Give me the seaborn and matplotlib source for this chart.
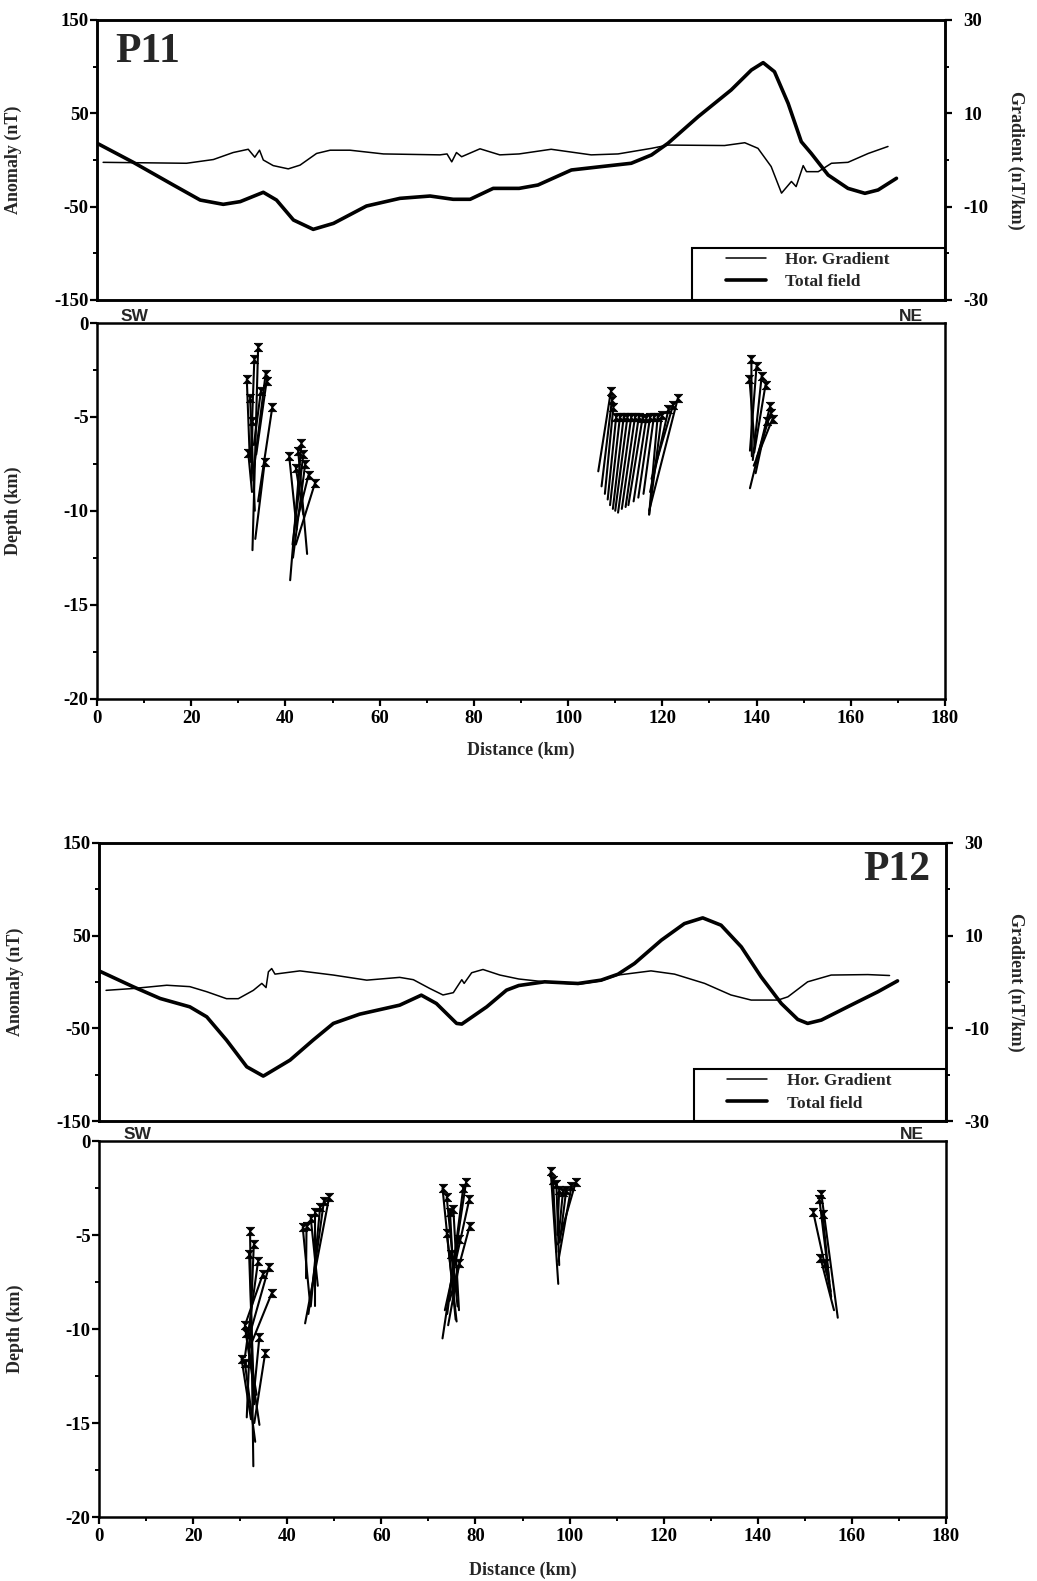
import matplotlib
matplotlib.use("Agg")
import numpy as np
import pandas as pd
import matplotlib.pyplot as plt
from matplotlib.patches import Rectangle
from matplotlib.ticker import MultipleLocator, FixedLocator
import seaborn as sns

# ---------------- Profile P11 ----------------
tf11_km = [0, 7.7, 16.2, 21.9, 26.8, 30.4, 35.3, 38.1, 41.7, 45.9, 50.2, 57.2, 64.3,
           70.7, 75.6, 79.2, 84.1, 89.6, 93.6, 100.7, 107.0, 113.4, 117.7, 121.2,
           127.6, 134.6, 138.9, 141.4, 143.8, 146.7, 149.5, 151.6, 155.2, 159.4,
           163.0, 165.8, 169.7]
tf11_nt = [18, -2.5, -26.8, -42.9, -47.5, -44.6, -34.6, -42.9, -64.3, -74.3, -67.9,
           -49.3, -41.1, -38.6, -42.1, -42.1, -30.4, -30.4, -26.8, -10.7, -7.1, -3.5,
           5.4, 17.9, 46.4, 75.0, 96.4, 104.3, 94.6, 60.7, 19.6, 7.1, -16.1, -30.4,
           -35.7, -32.1, -19.6]

hg11_km = [1.3, 19.0, 24.7, 28.9, 32.1, 33.5, 34.5, 35.3, 37.4, 40.6, 43.1, 46.6, 49.5,
           53.7, 60.8, 72.8, 74.3, 75.3, 76.3, 77.4, 81.3, 85.5, 89.6, 96.4, 104.9,
           110.6, 117.7, 121.2, 133.2, 137.5, 140.3, 143.1, 145.3, 147.4, 148.4, 149.9,
           150.6, 153.1, 155.9, 159.4, 163.7, 167.9]
hg11_g = [-0.5, -0.7, 0.1, 1.6, 2.3, 0.6, 2.1, 0.0, -1.2, -1.9, -1.1, 1.4, 2.1, 2.1,
          1.3, 1.1, 1.3, -0.4, 1.6, 0.7, 2.4, 1.1, 1.3, 2.3, 1.1, 1.3, 2.5, 3.2, 3.1,
          3.7, 2.5, -1.4, -7.1, -4.6, -5.7, -1.2, -2.5, -2.5, -0.7, -0.5, 1.4, 2.9]

# Euler solutions (top and bottom of each solution line), P11
sol11_x_top = [34.2, 33.4, 31.8, 35.8, 36.0, 37.2, 32.5, 35.6, 33.0, 34.8, 32.1,
               43.4, 42.7, 40.8, 44.2, 44.9, 46.3, 42.2, 43.8,
               109.1, 109.3, 109.6, 110.2, 111.0, 111.8, 112.6, 113.4, 114.2, 115.0,
               115.8, 116.6, 117.4, 118.2, 119.0, 119.9, 121.3, 122.3, 123.3,
               138.9, 140.0, 138.5, 141.1, 141.9, 142.9, 143.4, 142.2, 143.0]
sol11_z_top = [-1.3, -1.9, -3.0, -2.7, -3.1, -4.5, -4.0, -7.4, -5.2, -3.6, -6.9,
               -6.4, -6.8, -7.1, -7.5, -8.1, -8.5, -7.7, -7.0,
               -3.6, -4.1, -4.5, -5.0, -5.0, -5.0, -5.0, -5.0, -5.0, -5.0,
               -5.05, -5.05, -5.0, -5.0, -5.0, -4.9, -4.6, -4.35, -4.0,
               -1.9, -2.3, -3.0, -2.8, -3.3, -4.4, -5.1, -5.2, -4.8]
sol11_x_bot = [33.0, 32.6, 32.4, 33.2, 33.8, 34.2, 33.5, 33.6, 32.8, 33.3, 32.9,
               41.0, 44.6, 42.4, 41.6, 42.5, 42.2, 43.8, 41.5,
               106.4, 107.1, 107.8, 108.4, 108.9, 109.5, 110.0, 110.6, 111.4, 112.2,
               112.8, 113.9, 114.9, 116.0, 117.2, 117.2, 117.4, 117.7, 117.2,
               139.0, 138.6, 139.6, 139.2, 139.5, 138.6, 139.4, 139.8, 140.0]
sol11_z_bot = [-12.1, -7.4, -7.0, -8.0, -7.0, -9.5, -10.0, -11.5, -8.4, -6.5, -9.0,
               -13.7, -12.3, -11.0, -12.5, -10.5, -11.8, -10.2, -11.8,
               -7.9, -8.7, -9.1, -9.4, -9.7, -9.9, -10.0, -10.1, -9.9, -9.8,
               -9.7, -9.5, -9.3, -9.1, -10.2, -10.2, -9.0, -8.3, -10.0,
               -7.1, -6.8, -6.5, -7.3, -6.9, -8.8, -7.6, -8.0, -7.2]

# ---------------- Profile P12 ----------------
tf12_km = [0, 7.3, 13.0, 19.3, 22.9, 27.1, 31.4, 34.9, 35.3, 40.6, 45.5, 49.8, 55.4,
           63.9, 68.5, 71.7, 76.0, 77.1, 82.4, 86.6, 89.2, 94.7, 101.8, 106.7, 110.3,
           113.8, 119.5, 124.4, 128.3, 132.2, 136.5, 140.7, 145.0, 148.5, 150.6,
           153.5, 159.8, 165.5, 169.7]
tf12_nt = [12, -5.2, -17.8, -26.8, -37.6, -62.7, -91.5, -101.5, -100.4, -84.3, -62.7,
           -44.7, -34.7, -25.0, -14.2, -23.2, -44.7, -45.4, -26.8, -8.8, -3.8, 0.2,
           -1.6, 2.0, 8.4, 20.0, 45.1, 63.0, 69.2, 61.3, 37.9, 5.6, -23.2, -40.4,
           -44.7, -41.1, -25.0, -10.6, 1.2]

hg12_km = [1.5, 7.3, 14.4, 19.3, 22.9, 27.1, 29.6, 32.8, 34.6, 35.5, 36.0, 36.7, 37.4,
           42.7, 49.8, 56.9, 63.9, 66.8, 70.3, 73.1, 75.3, 77.1, 77.6, 79.2, 81.6,
           85.2, 89.2, 94.7, 101.8, 106.7, 110.3, 117.3, 122.3, 128.7, 134.3, 138.6,
           144.3, 146.4, 150.6, 155.6, 163.4, 168.0]
hg12_g = [-1.8, -1.4, -0.7, -1.0, -2.1, -3.6, -3.6, -1.8, -0.3, -1.2, 2.2, 2.9, 1.7,
          2.4, 1.5, 0.4, 1.0, 0.5, -1.4, -2.8, -2.3, 0.5, -0.3, 2.0, 2.7, 1.5, 0.65,
          0.04, -0.5, 0.25, 1.5, 2.4, 1.7, -0.3, -2.8, -3.9, -3.9, -3.2, 0.04, 1.5,
          1.6, 1.4]

sol12_x_top = [32.1, 32.9, 31.9, 33.8, 36.1, 34.8, 36.7, 31.0, 31.2, 34.1, 35.3, 30.3, 31.0,
               48.9, 47.8, 47.0, 45.9, 45.0, 44.1, 43.3,
               73.0, 73.9, 78.0, 77.4, 78.7, 75.3, 74.6, 78.8, 73.9, 76.4, 74.8, 76.6,
               96.0, 96.5, 97.2, 101.3, 100.4, 97.8, 99.3, 98.6,
               153.5, 153.1, 151.8, 153.8, 153.3, 154.2]
sol12_z_top = [-4.8, -5.5, -6.0, -6.4, -6.7, -7.1, -8.1, -9.8, -10.2, -10.4, -11.3, -11.6, -11.8,
               -3.0, -3.2, -3.5, -3.8, -4.1, -4.5, -4.6,
               -2.5, -3.0, -2.2, -2.5, -3.1, -3.6, -3.8, -4.5, -4.9, -5.2, -6.0, -6.5,
               -1.6, -2.1, -2.3, -2.2, -2.4, -2.6, -2.6, -2.7,
               -2.8, -3.1, -3.8, -3.9, -6.2, -6.5]
sol12_x_bot = [32.8, 31.4, 33.0, 31.0, 31.8, 31.3, 32.0, 33.5, 34.1, 32.5, 33.0, 32.3, 33.2,
               43.8, 44.5, 45.0, 45.9, 46.5, 44.0, 44.8,
               75.8, 76.2, 73.0, 74.0, 73.5, 76.5, 75.5, 74.5, 76.0, 75.0, 76.2, 74.2,
               97.6, 97.2, 97.8, 97.5, 97.6, 97.4, 97.9, 97.7,
               157.0, 155.6, 154.6, 155.2, 156.2, 155.5]
sol12_z_bot = [-17.3, -14.7, -14.0, -11.5, -10.5, -9.6, -11.0, -13.5, -15.1, -14.5, -15.0, -14.8, -16.0,
               -9.7, -9.2, -8.8, -8.8, -7.7, -7.3, -8.5,
               -9.5, -8.8, -10.5, -9.2, -9.0, -9.0, -8.0, -8.5, -9.6, -7.5, -8.2, -9.8,
               -7.6, -5.9, -6.6, -5.5, -6.4, -5.0, -5.4, -5.0,
               -9.4, -8.3, -7.0, -7.5, -9.0, -8.0]

anomaly_ticks = [150, 50, -50, -150]
gradient_ticks = [30, 10, -10, -30]
depth_ticks = [0, -5, -10, -15, -20]
distance_ticks = list(range(0, 181, 20))

# ---------------- style ----------------
sns.set_theme(style="ticks")
plt.rcParams["font.family"] = ["Liberation Serif", "DejaVu Serif"]
plt.rcParams.update({
    "font.weight": "bold",
    "axes.labelweight": "bold",
    "axes.unicode_minus": False,
    "axes.linewidth": 1.8,
    "axes.edgecolor": "black",
    "xtick.color": "black",
    "ytick.color": "black",
    "xtick.direction": "out",
    "ytick.direction": "out",
    "xtick.major.size": 5,
    "ytick.major.size": 5,
    "xtick.minor.size": 3,
    "ytick.minor.size": 3,
    "xtick.major.width": 1.6,
    "ytick.major.width": 1.6,
    "xtick.minor.width": 1.4,
    "ytick.minor.width": 1.4,
    "xtick.labelsize": 13.5,
    "ytick.labelsize": 13.5,
    "axes.labelsize": 13,
})

W, H = 1037, 1581
fig = plt.figure(figsize=(W / 100, H / 100), dpi=100)


def box(left, right, top, bottom):
    return [left / W, 1 - bottom / H, (right - left) / W, (bottom - top) / H]


HOURGLASS = [(-1, 1), (1, 1), (-1, -1), (1, -1), (-1, 1)]


def field_panel(rect, tf_km, tf_nt, hg_km, hg_g, name, name_xy, name_ha):
    ax = fig.add_axes(rect)
    axr = ax.twinx()
    sns.lineplot(x=tf_km, y=tf_nt, ax=ax, color="black", linewidth=2.6,
                 estimator=None, sort=False, solid_joinstyle="round",
                 solid_capstyle="round")
    sns.lineplot(x=hg_km, y=hg_g, ax=axr, color="black", linewidth=1.1,
                 estimator=None, sort=False, solid_joinstyle="round")
    ax.set_xlim(0, 180)
    ax.set_ylim(-150, 150)
    axr.set_ylim(-30, 30)
    ax.set_xticks([])
    ax.yaxis.set_major_locator(FixedLocator(anomaly_ticks))
    ax.yaxis.set_minor_locator(FixedLocator([100, 0, -100]))
    axr.yaxis.set_major_locator(FixedLocator(gradient_ticks))
    axr.yaxis.set_minor_locator(FixedLocator([20, 0, -20]))
    ax.set_ylabel("Anomaly (nT)")
    axr.set_ylabel("Gradient (nT/km)", rotation=270)
    ax.yaxis.set_label_coords(-0.088, 0.5)
    axr.yaxis.set_label_coords(1.093, 0.5)
    ax.tick_params(axis="y", pad=1)
    axr.tick_params(axis="y", pad=8)
    for s in ax.spines.values():
        s.set_linewidth(1.8)
    ax.text(name_xy[0], name_xy[1], name, transform=ax.transAxes, ha=name_ha,
            va="baseline", fontsize=30, fontweight="bold")
    # legend box in the lower right corner
    axr.add_patch(Rectangle((0.702, 0.0), 0.298, 0.186, transform=axr.transAxes,
                            facecolor="white", edgecolor="black", linewidth=1.5,
                            zorder=5))
    leg = axr.legend(handles=[axr.lines[0], ax.lines[0]],
                     labels=["Hor. Gradient", "Total field"],
                     loc="upper left", bbox_to_anchor=(0.742, 0.172),
                     frameon=False, borderpad=0, borderaxespad=0,
                     handlelength=2.3, handletextpad=1.1, labelspacing=0.35,
                     prop={"family": "Liberation Serif", "weight": "bold",
                           "size": 12.5})
    leg.set_zorder(6)
    return ax


def depth_panel(rect, xt, zt, xb, zb, sw_x, ne_x, xlabel_y):
    ax = fig.add_axes(rect)
    seg = np.arange(len(xt))
    df = pd.DataFrame({
        "km": np.concatenate([xt, xb]),
        "depth": np.concatenate([zt, zb]),
        "seg": np.concatenate([seg, seg]),
    })
    sns.lineplot(data=df, x="km", y="depth", units="seg", estimator=None,
                 sort=False, color="black", linewidth=1.5, ax=ax, legend=False)
    sns.scatterplot(x=xt, y=zt, ax=ax, marker=HOURGLASS, s=36, color="black",
                    edgecolor="black", linewidth=0.6, zorder=3)
    ax.set_xlim(0, 180)
    ax.set_ylim(-20, 0)
    ax.xaxis.set_major_locator(FixedLocator(distance_ticks))
    ax.xaxis.set_minor_locator(MultipleLocator(10))
    ax.yaxis.set_major_locator(FixedLocator(depth_ticks))
    ax.yaxis.set_minor_locator(MultipleLocator(2.5))
    ax.tick_params(axis="y", pad=1)
    ax.tick_params(axis="x", pad=3)
    ax.set_xlabel("Distance (km)")
    ax.set_ylabel("Depth (km)")
    ax.yaxis.set_label_coords(-0.088, 0.5)
    ax.xaxis.set_label_coords(0.5, xlabel_y)
    for s in ax.spines.values():
        s.set_linewidth(1.8)
    ax.text(sw_x, 1.004, "SW", transform=ax.transAxes, ha="left", va="baseline",
            fontsize=12.5, fontweight="bold", family="Liberation Sans")
    ax.text(ne_x, 1.004, "NE", transform=ax.transAxes, ha="right", va="baseline",
            fontsize=12.5, fontweight="bold", family="Liberation Sans")
    return ax


field_panel(box(97, 945, 20, 300), tf11_km, tf11_nt, hg11_km, hg11_g,
            "P11", (0.021, 0.85), "left")
depth_panel(box(97, 945, 323, 698.5), sol11_x_top, sol11_z_top,
            sol11_x_bot, sol11_z_bot, 0.028, 0.974, -0.116)

field_panel(box(99, 946, 843, 1121), tf12_km, tf12_nt, hg12_km, hg12_g,
            "P12", (0.981, 0.867), "right")
depth_panel(box(99, 946, 1141, 1517), sol12_x_top, sol12_z_top,
            sol12_x_bot, sol12_z_bot, 0.029, 0.974, -0.118)

fig.savefig("out.png", dpi=100, facecolor="white")
